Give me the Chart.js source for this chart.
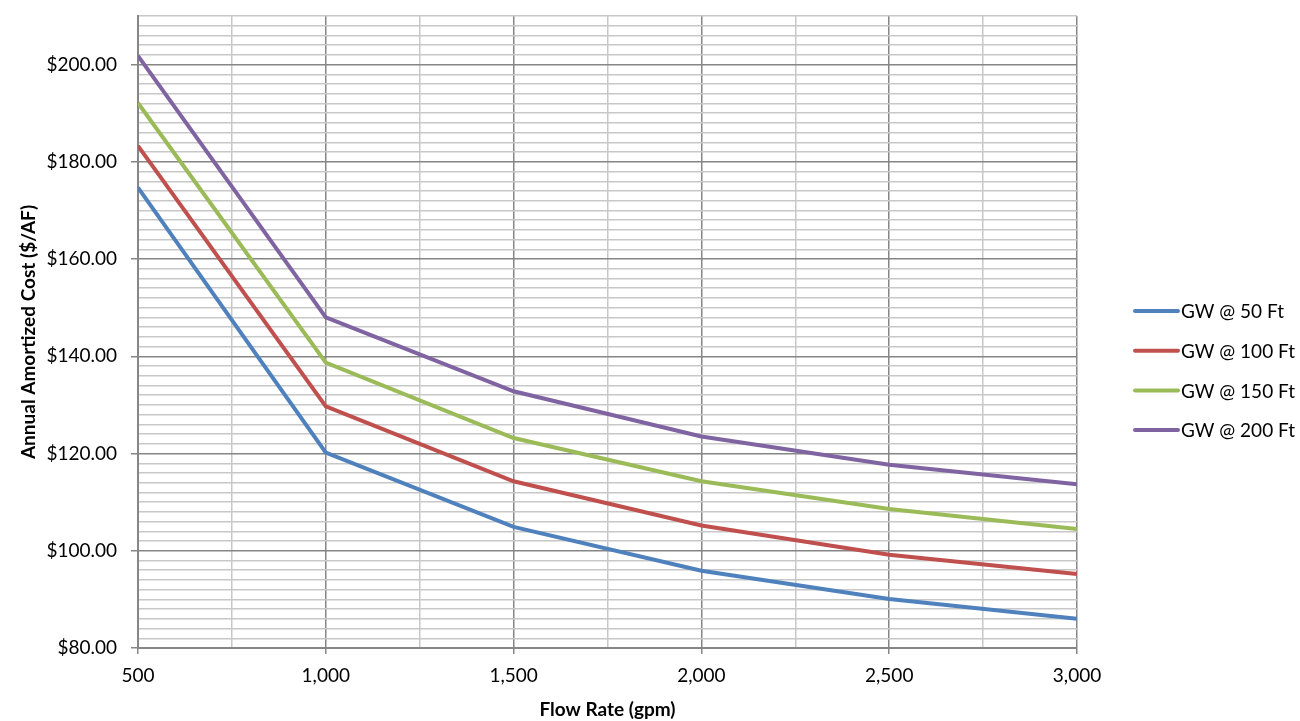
<!DOCTYPE html>
<html>
<head>
<meta charset="utf-8">
<script src="https://cdn.jsdelivr.net/npm/chart.js@4.4.1/dist/chart.umd.min.js"></script>
<style>
  html, body { margin: 0; padding: 0; background: #fff; }
  #wrap { position: relative; width: 1300px; height: 721px; }
</style>
</head>
<body>
<div id="wrap"><canvas id="chart" width="1300" height="721"></canvas></div>
<script>
// flow rates (gpm) and annual amortized cost ($/AF) per groundwater depth
const flowRates = [500, 1000, 1500, 2000, 2500, 3000];
const gw50 = [174.7, 120.2, 104.9, 95.9, 90.1, 86.0];
const gw100 = [183.3, 129.7, 114.3, 105.2, 99.2, 95.2];
const gw150 = [192.1, 138.7, 123.2, 114.3, 108.6, 104.5];
const gw200 = [201.8, 148.0, 132.8, 123.5, 117.7, 113.7];
const seriesNames = ["GW @ 50 Ft", "GW @ 100 Ft", "GW @ 150 Ft", "GW @ 200 Ft"];
const seriesColors = ["#4F81BD", "#C0504D", "#9BBB59", "#8064A2"];

const FONT = "Lato, 'Open Sans', sans-serif";
const MAJOR = "#868686";
const MINOR = "#C8C8C8";

const toPoints = (vals) => vals.map((v, i) => ({ x: flowRates[i], y: v }));

// legend drawn by hand so the plot area keeps its place
const legendPlugin = {
  id: "sideLegend",
  afterDraw(chart) {
    const ctx = chart.ctx;
    ctx.save();
    ctx.font = "19px " + FONT;
    ctx.textBaseline = "middle";
    chart.data.datasets.forEach((ds, i) => {
      const y = 311 + i * 39.7;
      ctx.strokeStyle = ds.borderColor;
      ctx.lineWidth = 4;
      ctx.lineCap = "round";
      ctx.beginPath();
      ctx.moveTo(1135, y);
      ctx.lineTo(1178, y);
      ctx.stroke();
      ctx.fillStyle = "#000";
      ctx.fillText(ds.label, 1181, y + 1);
    });
    ctx.restore();
  }
};

new Chart(document.getElementById("chart"), {
  type: "scatter",
  data: {
    datasets: [gw50, gw100, gw150, gw200].map((vals, i) => ({
      label: seriesNames[i],
      data: toPoints(vals),
      showLine: true,
      borderColor: seriesColors[i],
      backgroundColor: seriesColors[i],
      borderWidth: 4,
      pointRadius: 0,
      tension: 0
    }))
  },
  options: {
    responsive: false,
    animation: false,
    layout: { padding: { top: 16, right: 223, bottom: 0, left: 0 } },
    plugins: { legend: { display: false }, tooltip: { enabled: false } },
    scales: {
      x: {
        type: "linear",
        min: 500,
        max: 3000,
        afterFit: (s) => { s.height = 73; },
        ticks: {
          stepSize: 250,
          autoSkip: false,
          maxRotation: 0,
          padding: 10,
          color: "#000",
          font: { family: FONT, size: 19 },
          callback: (v) => (v % 500 === 0 ? v.toLocaleString("en-US") : "")
        },
        grid: {
          color: (c) => (c.tick && c.tick.value % 500 === 0 ? MAJOR : MINOR),
          tickColor: (c) => (c.tick && c.tick.value % 500 === 0 ? MAJOR : "rgba(0,0,0,0)"),
          tickLength: 6,
          lineWidth: 1.5
        },
        border: { color: MAJOR, width: 2 },
        title: {
          display: true,
          text: "Flow Rate (gpm)",
          color: "#000",
          font: { family: FONT, size: 19, weight: "bold" },
          padding: { top: 0, bottom: 0 }
        }
      },
      y: {
        min: 80,
        max: 210,
        // the empty top label would push the plot down otherwise
        afterFit: (s) => { s.width = 138; s.paddingTop = 0; },
        ticks: {
          stepSize: 2,
          autoSkip: false,
          padding: 14,
          color: "#000",
          font: { family: FONT, size: 19 },
          callback: (v) => (v % 20 === 0 ? "$" + v.toFixed(2) : "")
        },
        grid: {
          color: (c) => (c.tick && c.tick.value % 20 === 0 ? MAJOR : MINOR),
          tickColor: (c) => (c.tick && c.tick.value % 20 === 0 ? MAJOR : "rgba(0,0,0,0)"),
          tickLength: 7,
          lineWidth: 1.5
        },
        border: { color: MAJOR, width: 2 },
        title: {
          display: true,
          text: "Annual Amortized Cost ($/AF)",
          color: "#000",
          font: { family: FONT, size: 19, weight: "bold" },
          padding: { top: 17, bottom: 0 }
        }
      }
    }
  },
  plugins: [legendPlugin]
});
</script>
</body>
</html>
